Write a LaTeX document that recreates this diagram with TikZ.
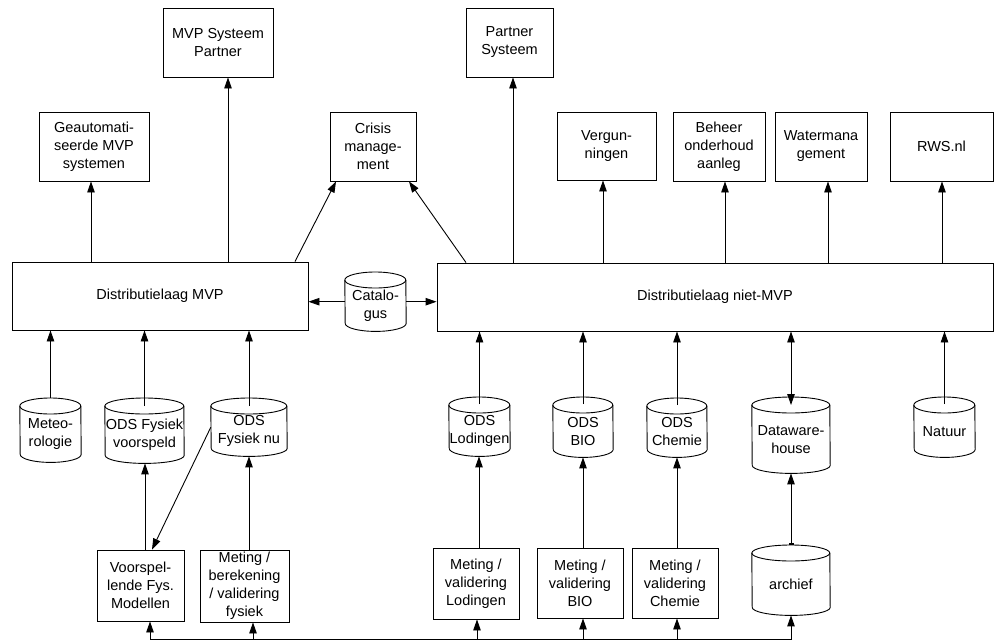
\documentclass[tikz,border=0pt]{standalone}
\usepackage{fontspec}
\setmainfont{Liberation Sans}
\usetikzlibrary{arrows.meta,calc}

\tikzset{
  every node/.style={font=\fontsize{14.5}{18}\selectfont},
  box/.style={draw, line width=0.9pt, inner sep=0pt, align=center},
  cylbb/.style={inner sep=0pt, draw=none},
  cylline/.style={line width=0.9pt},
  txt/.style={align=center, inner sep=0pt},
  arr/.style={line width=0.9pt, -{Triangle[length=11pt,width=7.5pt]}},
  darr/.style={line width=0.9pt, {Triangle[length=11pt,width=7.5pt]}-{Triangle[length=11pt,width=7.5pt]}},
  barr/.style={line width=0.9pt, {Bar[width=5pt,line width=1.6pt]}-{Triangle[length=11pt,width=7.5pt]}},
  link/.style={line width=0.9pt}
}

% name, center x, top y, width, height, text
\newcommand\dbcyl[6]{%
  \node[cylbb, minimum width=#4pt, minimum height=#5pt, anchor=north] (#1) at (#2,#3) {};
  \draw[cylline] ([yshift=-8pt]#1.north west) arc[start angle=180,end angle=0,x radius=#4*0.5pt,y radius=8pt]
     -- ([yshift=8pt]#1.south east) arc[start angle=0,end angle=-180,x radius=#4*0.5pt,y radius=8pt] -- cycle;
  \draw[cylline] ([yshift=-8pt]#1.north west) arc[start angle=180,end angle=360,x radius=#4*0.5pt,y radius=8pt];
  \node[txt] (#1-t) at ([yshift=-4pt]#1.center) {#6};
}

\begin{document}
\begin{tikzpicture}[x=1pt,y=-1pt]
\useasboundingbox (0,0) rectangle (994,641);

% top boxes
\node[box, minimum width=110pt, minimum height=69pt] (mvpPartner) at (218,42.5) {MVP Systeem\\Partner};
\node[box, minimum width=87pt, minimum height=69pt] (partnerSys) at (509.5,42.5) {Partner\\Systeem};
\node[box, minimum width=110pt, minimum height=69pt] (geaut) at (94,146.5) {Geautomati-\\seerde MVP\\systemen};
\node[box, minimum width=86pt, minimum height=69pt] (crisis) at (373,146.5) {Crisis\\manage-\\ment};
\node[box, minimum width=99pt, minimum height=68pt] (vergun) at (606.5,146) {Vergun-\\ningen};
\node[box, minimum width=92pt, minimum height=69pt] (beheer) at (719,146.5) {Beheer\\onderhoud\\aanleg};
\node[box, minimum width=92pt, minimum height=69pt] (water) at (821,146.5) {Watermana\\gement};
\node[box, minimum width=103pt, minimum height=69pt] (rws) at (941.5,146.5) {RWS.nl};

% distribution layers
\node[box, minimum width=296pt, minimum height=68pt] (distMVP) at (160,296) {Distributielaag MVP};
\node[box, minimum width=556pt, minimum height=68pt] (distNiet) at (715,297) {Distributielaag niet-MVP};

% cylinders
\dbcyl{catalog}{375.5}{272}{61}{59}{Catalo-\\gus}
\dbcyl{meteo}{50.5}{398}{61}{64}{Meteo-\\rologie}
\dbcyl{odsFysV}{144.5}{398}{79}{65}{ODS Fysiek\\voorspeld}
\dbcyl{odsFysNu}{249}{398}{76}{58}{ODS\\Fysiek nu}
\dbcyl{odsLod}{479.5}{397}{61}{59}{ODS\\Lodingen}
\dbcyl{odsBio}{583}{397}{60}{60}{ODS\\BIO}
\dbcyl{odsChem}{677}{398}{60}{59}{ODS\\Chemie}
\dbcyl{dwh}{791}{397}{78}{76}{Dataware-\\house}
\dbcyl{natuur}{944.5}{397}{61}{60}{Natuur}
\dbcyl{archief}{791}{545}{78}{70}{archief}

% bottom boxes
\node[box, minimum width=87pt, minimum height=71pt] (voorsp) at (140.5,585.5) {Voorspel-\\lende Fys.\\Modellen};
\node[box, minimum width=89pt, minimum height=72pt] (metFys) at (244.5,586) {Meting /\\berekening\\/ validering\\fysiek};
\node[box, minimum width=86pt, minimum height=71pt] (metLod) at (476,583.5) {Meting /\\validering\\Lodingen};
\node[box, minimum width=86pt, minimum height=70pt] (metBio) at (580,583) {Meting /\\validering\\BIO};
\node[box, minimum width=86pt, minimum height=70pt] (metChem) at (675,583) {Meting /\\validering\\Chemie};

% top arrows
\draw[arr] (distMVP.north -| 91,0) -- (geaut.south -| 91,0);
\draw[arr] (distMVP.north -| 228,0) -- (mvpPartner.south -| 228,0);
\draw[arr] (distMVP.north -| 295,0) -- (crisis.south -| 336,0);
\draw[arr] (distNiet.north -| 466,0) -- (crisis.south -| 409,0);
\draw[arr] (distNiet.north -| 513,0) -- (partnerSys.south -| 513,0);
\draw[arr] (distNiet.north -| 603,0) -- (vergun.south -| 603,0);
\draw[arr] (distNiet.north -| 725,0) -- (beheer.south -| 725,0);
\draw[arr] (distNiet.north -| 828,0) -- (water.south -| 828,0);
\draw[arr] (distNiet.north -| 942,0) -- (rws.south -| 942,0);

% catalogus
\draw[arr] (catalog.west) -- (catalog.west -| distMVP.east);
\draw[arr] (catalog.east) -- (catalog.east -| distNiet.west);

% cylinders to distribution layers
\draw[arr] (meteo.north) -- (meteo.north |- distMVP.south);
\draw[arr] ([yshift=-8pt]odsFysV.north) -- (odsFysV.north |- distMVP.south);
\draw[arr] ([yshift=-8pt]odsFysNu.north) -- (odsFysNu.north |- distMVP.south);
\draw[arr] ([yshift=-7pt]odsLod.north) -- (odsLod.north |- distNiet.south);
\draw[arr] ([yshift=-7pt]odsBio.north) -- (odsBio.north |- distNiet.south);
\draw[arr] ([yshift=-7pt]odsChem.north) -- (odsChem.north |- distNiet.south);
\draw[darr] ([yshift=-8pt]dwh.north) -- (dwh.north |- distNiet.south);
\draw[arr] ([yshift=-7pt]natuur.north) -- (natuur.north |- distNiet.south);

% bottom boxes to cylinders
\draw[arr] (voorsp.north -| 145,0) -- (odsFysV.south -| 145,0);
\draw[arr] (odsFysNu.west) -- (voorsp.north -| 152,0);
\draw[arr] (metFys.north -| 249,0) -- (odsFysNu.south);
\draw[arr] (metLod.north -| 479,0) -- (odsLod.south -| 479,0);
\draw[arr] (metBio.north -| 583,0) -- (odsBio.south);
\draw[arr] (metChem.north -| 677,0) -- (odsChem.south);
\draw[barr] (archief.north) -- (dwh.south);

% bottom bus
\coordinate (b1) at (150,639.5);
\coordinate (b2) at (253,639.5);
\coordinate (b3) at (477,639.5);
\coordinate (b4) at (583,639.5);
\coordinate (b5) at (677,639.5);
\coordinate (b6) at (791,639.5);
\draw[link] (b1) -- (b6);
\draw[arr] (b1) -- (b1 |- voorsp.south);
\draw[arr] (b2) -- (b2 |- metFys.south);
\draw[arr] (b3) -- (b3 |- metLod.south);
\draw[arr] (b4) -- (b4 |- metBio.south);
\draw[arr] (b5) -- (b5 |- metChem.south);
\draw[arr] (b6) -- (archief.south);
\end{tikzpicture}
\end{document}
